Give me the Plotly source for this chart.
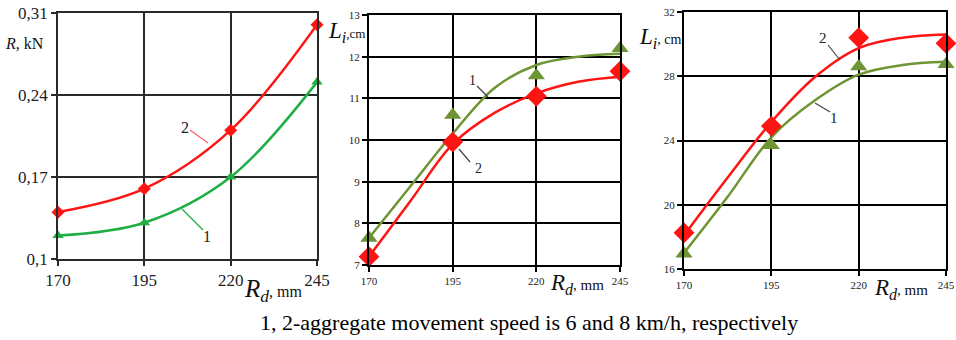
import plotly.graph_objects as go

# ---------------- data ----------------
rd = [170, 195, 220, 245]                      # R_d, mm
rd_curve = [170, 182.5, 195, 207.5, 220, 232.5, 245]

# panel 1: R, kN
r_v6 = [0.120, 0.131, 0.170, 0.251]            # curve 1 (6 km/h)
r_v8 = [0.140, 0.160, 0.210, 0.300]            # curve 2 (8 km/h)

# panel 2: L_i, cm (measured points and fitted curves)
l2_v6_pts = [7.65, 10.6, 11.55, 12.2]
l2_v8_pts = [7.2, 9.95, 11.05, 11.65]
l2_v6_fit = [7.65, 8.9, 10.15, 11.25, 11.8, 12.0, 12.07]
l2_v8_fit = [7.2, 8.55, 9.9, 10.65, 11.12, 11.4, 11.52]

# panel 3: L_i, cm
l3_v6_pts = [16.95, 23.7, 28.6, 28.75]
l3_v8_pts = [18.25, 24.9, 30.4, 30.05]
l3_v6_fit = [17.0, 20.5, 24.2, 26.5, 28.1, 28.7, 28.9]
l3_v8_fit = [18.1, 21.7, 25.15, 27.95, 29.75, 30.4, 30.6]

x_ticks = [170, 195, 220, 245]
p1_yticks = [0.1, 0.17, 0.24, 0.31]
p1_yticktext = ["0,1", "0,17", "0,24", "0,31"]
p2_yticks = [7, 8, 9, 10, 11, 12, 13]
p3_yticks = [16, 20, 24, 28, 32]

caption = "1, 2-aggregate movement speed is 6 and 8 km/h, respectively"

RED = "#ff1414"
GREEN1 = "#1fae45"
OLIVE = "#6f9434"
SERIF = "Liberation Serif"
W, H = 956, 340


def px(x):
    return x / W


def py(y):
    return 1 - y / H


fig = go.Figure()

# panel 1
fig.add_trace(go.Scatter(x=rd, y=r_v8, mode="lines+markers", line=dict(color=RED, width=2.5, shape="spline"),
                         marker=dict(symbol="diamond", size=10, color=RED), cliponaxis=False,
                         xaxis="x", yaxis="y", showlegend=False))
fig.add_trace(go.Scatter(x=rd, y=r_v6, mode="lines+markers", line=dict(color=GREEN1, width=2.5, shape="spline"),
                         marker=dict(symbol="triangle-up", size=10, color=GREEN1), cliponaxis=False,
                         xaxis="x", yaxis="y", showlegend=False))

# panel 2
fig.add_trace(go.Scatter(x=rd_curve, y=l2_v6_fit, mode="lines", line=dict(color=OLIVE, width=2.5, shape="spline"),
                         cliponaxis=False, xaxis="x2", yaxis="y2", showlegend=False))
fig.add_trace(go.Scatter(x=rd_curve, y=l2_v8_fit, mode="lines", line=dict(color=RED, width=2.5, shape="spline"),
                         cliponaxis=False, xaxis="x2", yaxis="y2", showlegend=False))
fig.add_trace(go.Scatter(x=rd, y=l2_v6_pts, mode="markers", marker=dict(symbol="triangle-up", size=15, color=OLIVE),
                         cliponaxis=False, xaxis="x2", yaxis="y2", showlegend=False))
fig.add_trace(go.Scatter(x=rd, y=l2_v8_pts, mode="markers", marker=dict(symbol="diamond", size=16, color=RED),
                         cliponaxis=False, xaxis="x2", yaxis="y2", showlegend=False))

# panel 3
fig.add_trace(go.Scatter(x=rd_curve, y=l3_v6_fit, mode="lines", line=dict(color=OLIVE, width=2.5, shape="spline"),
                         cliponaxis=False, xaxis="x3", yaxis="y3", showlegend=False))
fig.add_trace(go.Scatter(x=rd_curve, y=l3_v8_fit, mode="lines", line=dict(color=RED, width=2.5, shape="spline"),
                         cliponaxis=False, xaxis="x3", yaxis="y3", showlegend=False))
fig.add_trace(go.Scatter(x=rd, y=l3_v6_pts, mode="markers", marker=dict(symbol="triangle-up", size=15, color=OLIVE),
                         cliponaxis=False, xaxis="x3", yaxis="y3", showlegend=False))
fig.add_trace(go.Scatter(x=rd, y=l3_v8_pts, mode="markers", marker=dict(symbol="diamond", size=16, color=RED),
                         cliponaxis=False, xaxis="x3", yaxis="y3", showlegend=False))


def xax(domain, anchor, fsize, color, lw):
    return dict(domain=domain, anchor=anchor, range=[170, 245], tickvals=x_ticks, automargin=False,
                showgrid=True, gridcolor=color, gridwidth=lw, zeroline=False,
                showline=True, linecolor=color, linewidth=lw, mirror=True,
                ticks="outside", ticklen=5, tickwidth=lw, tickcolor=color,
                tickfont=dict(family=SERIF, size=fsize, color="#222"))


def yax(domain, anchor, rng, tv, fsize, color, lw, tt=None):
    d = dict(domain=domain, anchor=anchor, range=rng, tickvals=tv, automargin=False,
             showgrid=True, gridcolor=color, gridwidth=lw, zeroline=False,
             showline=True, linecolor=color, linewidth=lw, mirror=True,
             ticks="outside", ticklen=5, tickwidth=lw, tickcolor=color,
             tickfont=dict(family=SERIF, size=fsize, color="#222"))
    if tt is not None:
        d["ticktext"] = tt
    return d


fig.update_layout(
    width=W, height=H, margin=dict(l=0, r=0, t=0, b=0, pad=0),
    paper_bgcolor="white", plot_bgcolor="white",
    xaxis=xax([px(58), px(317)], "y", 17, "#2a2a2a", 1.8),
    yaxis=yax([py(259), py(13)], "x", [0.1, 0.31], p1_yticks, 17, "#2a2a2a", 1.8, p1_yticktext),
    xaxis2=xax([px(369), px(620)], "y2", 11, "black", 2),
    yaxis2=yax([py(265), py(15)], "x2", [7, 13], p2_yticks, 11, "black", 2),
    xaxis3=xax([px(684), px(946)], "y3", 11, "black", 2),
    yaxis3=yax([py(269), py(12)], "x3", [16, 32], p3_yticks, 11, "black", 2),
)

# leader lines for curve numbers
leaders = [
    ((190, 130), (208, 143), "#ff6060"),
    ((182, 209), (203, 230), GREEN1),
    ((477, 86), (488, 97), "#444"),
    ((459, 149), (470, 162), "#444"),
    ((828, 45), (840, 60), "#444"),
    ((815, 103), (830, 112), "#444"),
]
for (x0, y0), (x1, y1), c in leaders:
    fig.add_shape(type="line", xref="paper", yref="paper", x0=px(x0), y0=py(y0), x1=px(x1), y1=py(y1),
                  line=dict(color=c, width=1.2))

labels = [
    (185, 127, "2", 16), (207, 236, "1", 16),
    (472, 80, "1", 14), (478, 168, "2", 14),
    (823, 38, "2", 15), (834, 118, "1", 15),
]
for x, y, t, s in labels:
    fig.add_annotation(x=px(x), y=py(y), xref="paper", yref="paper", text=t, showarrow=False,
                       xanchor="center", yanchor="middle",
                       font=dict(family=SERIF, size=s, color="#222"))

# axis titles
titles = [
    (24, 43, "<i>R</i>, kN", 16),
    (273, 290, "<i>R<sub>d</sub></i><span style='font-size:16px'>, mm</span>", 25),
    (346, 32, "<i>L<sub>i</sub></i><span style='font-size:13px'>,cm</span>", 23),
    (577, 284, "<i>R<sub>d</sub></i><span style='font-size:15px'>, mm</span>", 23),
    (660, 38, "<i>L<sub>i</sub></i><span style='font-size:14px'>, cm</span>", 23),
    (901, 289, "<i>R<sub>d</sub></i><span style='font-size:15px'>, mm</span>", 23),
]
for x, y, t, s in titles:
    fig.add_annotation(x=px(x), y=py(y), xref="paper", yref="paper", text=t, showarrow=False,
                       xanchor="center", yanchor="middle",
                       font=dict(family=SERIF, size=s, color="#111"))

fig.add_annotation(x=px(529), y=py(322), xref="paper", yref="paper", text=caption, showarrow=False,
                   xanchor="center", yanchor="middle",
                   font=dict(family=SERIF, size=22, color="black"))

fig.write_html("out.html", config={"displayModeBar": False},
               post_script="document.body.style.margin='0px';")
